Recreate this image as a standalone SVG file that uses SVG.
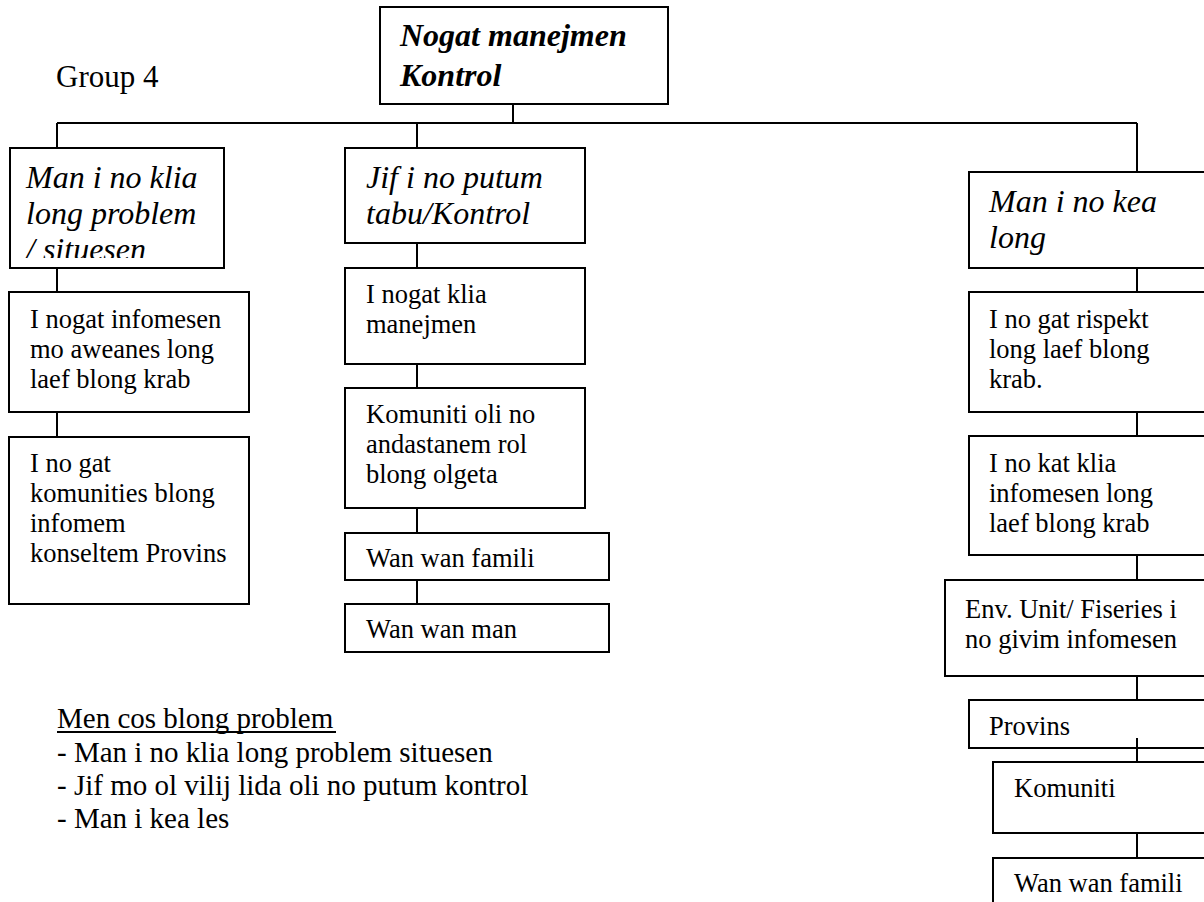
<svg xmlns="http://www.w3.org/2000/svg" width="1204" height="902" viewBox="0 0 1204 902">
  <defs>
    <style>
      .box { fill: #ffffff; stroke: #000000; stroke-width: 2; }
      .wire { stroke: #000000; stroke-width: 2; fill: none; }
      .t { font-family: "Liberation Serif", "Times New Roman", serif; fill: #000000; }
      .body { font-size: 26.5px; }
      .head { font-size: 32px; font-style: italic; }
      .root { font-size: 32px; font-style: italic; font-weight: bold; }
      .note { font-size: 29px; }
    </style>
    <clipPath id="clip-problem">
      <rect x="10" y="148" width="214" height="110"/>
    </clipPath>
  </defs>

  <rect width="1204" height="902" fill="#ffffff"/>

  <text class="t" x="56" y="87" font-size="31">Group 4</text>

  <!-- tree connectors -->
  <g id="connectors">
    <line class="wire" x1="513" y1="98" x2="513" y2="123"/>
    <line class="wire" x1="57" y1="123" x2="1137" y2="123"/>
    <line class="wire" x1="57" y1="123" x2="57" y2="148"/>
    <line class="wire" x1="417" y1="123" x2="417" y2="148"/>
    <line class="wire" x1="1137" y1="123" x2="1137" y2="172"/>
    <!-- left column -->
    <line class="wire" x1="57" y1="268" x2="57" y2="292"/>
    <line class="wire" x1="57" y1="412" x2="57" y2="437"/>
    <!-- middle column -->
    <line class="wire" x1="417" y1="243" x2="417" y2="268"/>
    <line class="wire" x1="417" y1="364" x2="417" y2="388"/>
    <line class="wire" x1="417" y1="508" x2="417" y2="533"/>
    <line class="wire" x1="417" y1="580" x2="417" y2="604"/>
    <!-- right column -->
    <line class="wire" x1="1137" y1="268" x2="1137" y2="292"/>
    <line class="wire" x1="1137" y1="412" x2="1137" y2="436"/>
    <line class="wire" x1="1137" y1="555" x2="1137" y2="580"/>
    <line class="wire" x1="1137" y1="676" x2="1137" y2="700"/>
  </g>

  <g id="root">
    <rect class="box" x="380" y="7" width="288" height="97"/>
    <text class="t root" x="400" y="46">Nogat manejmen</text>
    <text class="t root" x="400" y="86">Kontrol</text>
  </g>

  <!-- left column -->
  <g id="problem">
    <rect class="box" x="10" y="148" width="214" height="120"/>
    <g clip-path="url(#clip-problem)">
      <text class="t head" x="26" y="188">Man i no klia</text>
      <text class="t head" x="26" y="224">long problem</text>
      <text class="t head" x="26" y="260">/ situesen</text>
    </g>
  </g>
  <g id="infomesen">
    <rect class="box" x="9" y="292" width="240" height="120"/>
    <text class="t body" x="30" y="328">I nogat infomesen</text>
    <text class="t body" x="30" y="358">mo aweanes long</text>
    <text class="t body" x="30" y="388">laef blong krab</text>
  </g>
  <g id="komunities">
    <rect class="box" x="9" y="437" width="240" height="167"/>
    <text class="t body" x="30" y="472">I no gat</text>
    <text class="t body" x="30" y="502">komunities blong</text>
    <text class="t body" x="30" y="532">infomem</text>
    <text class="t body" x="30" y="562">konseltem Provins</text>
  </g>

  <!-- middle column -->
  <g id="jif">
    <rect class="box" x="345" y="148" width="240" height="95"/>
    <text class="t head" x="366" y="188">Jif i no putum</text>
    <text class="t head" x="366" y="224">tabu/Kontrol</text>
  </g>
  <g id="manejmen">
    <rect class="box" x="345" y="268" width="240" height="96"/>
    <text class="t body" x="366" y="303">I nogat klia</text>
    <text class="t body" x="366" y="333">manejmen</text>
  </g>
  <g id="rol">
    <rect class="box" x="345" y="388" width="240" height="120"/>
    <text class="t body" x="366" y="423">Komuniti oli no</text>
    <text class="t body" x="366" y="453">andastanem rol</text>
    <text class="t body" x="366" y="483">blong olgeta</text>
  </g>
  <g id="famili-mid">
    <rect class="box" x="345" y="533" width="264" height="47"/>
    <text class="t body" x="366" y="567">Wan wan famili</text>
  </g>
  <g id="man-mid">
    <rect class="box" x="345" y="604" width="264" height="48"/>
    <text class="t body" x="366" y="638">Wan wan man</text>
  </g>

  <!-- right column -->
  <g id="kea">
    <rect class="box" x="969" y="172" width="250" height="96"/>
    <text class="t head" x="989" y="212">Man i no kea</text>
    <text class="t head" x="989" y="248">long</text>
  </g>
  <g id="rispekt">
    <rect class="box" x="969" y="292" width="250" height="120"/>
    <text class="t body" x="989" y="328">I no gat rispekt</text>
    <text class="t body" x="989" y="358">long laef blong</text>
    <text class="t body" x="989" y="388">krab.</text>
  </g>
  <g id="klia-infomesen">
    <rect class="box" x="969" y="436" width="250" height="119"/>
    <text class="t body" x="989" y="472">I no kat klia</text>
    <text class="t body" x="989" y="502">infomesen long</text>
    <text class="t body" x="989" y="532">laef blong krab</text>
  </g>
  <g id="env-unit">
    <rect class="box" x="945" y="580" width="274" height="96"/>
    <text class="t body" x="965" y="618">Env. Unit/ Fiseries i</text>
    <text class="t body" x="965" y="648">no givim infomesen</text>
  </g>
  <g id="provins">
    <rect class="box" x="969" y="700" width="250" height="48"/>
    <text class="t body" x="989" y="735">Provins</text>
  </g>
  <g id="komuniti">
    <rect class="box" x="993" y="762" width="226" height="71"/>
    <text class="t body" x="1014" y="797">Komuniti</text>
  </g>
  <g id="famili-right">
    <rect class="box" x="993" y="858" width="226" height="60"/>
    <text class="t body" x="1014" y="892">Wan wan famili</text>
  </g>

  <!-- links drawn over the lower right boxes -->
  <g id="connectors-front">
    <line class="wire" x1="1137" y1="738" x2="1137" y2="762"/>
    <line class="wire" x1="1137" y1="833" x2="1137" y2="858"/>
  </g>

  <g id="causes">
    <text class="t note" x="57" y="728">Men cos blong problem</text>
    <line x1="57" y1="732" x2="336" y2="732" stroke="#000000" stroke-width="2"/>
    <text class="t note" x="57" y="762">- Man i no klia long problem situesen</text>
    <text class="t note" x="57" y="795">- Jif mo ol vilij lida oli no putum kontrol</text>
    <text class="t note" x="57" y="828">- Man i kea les</text>
  </g>
</svg>
